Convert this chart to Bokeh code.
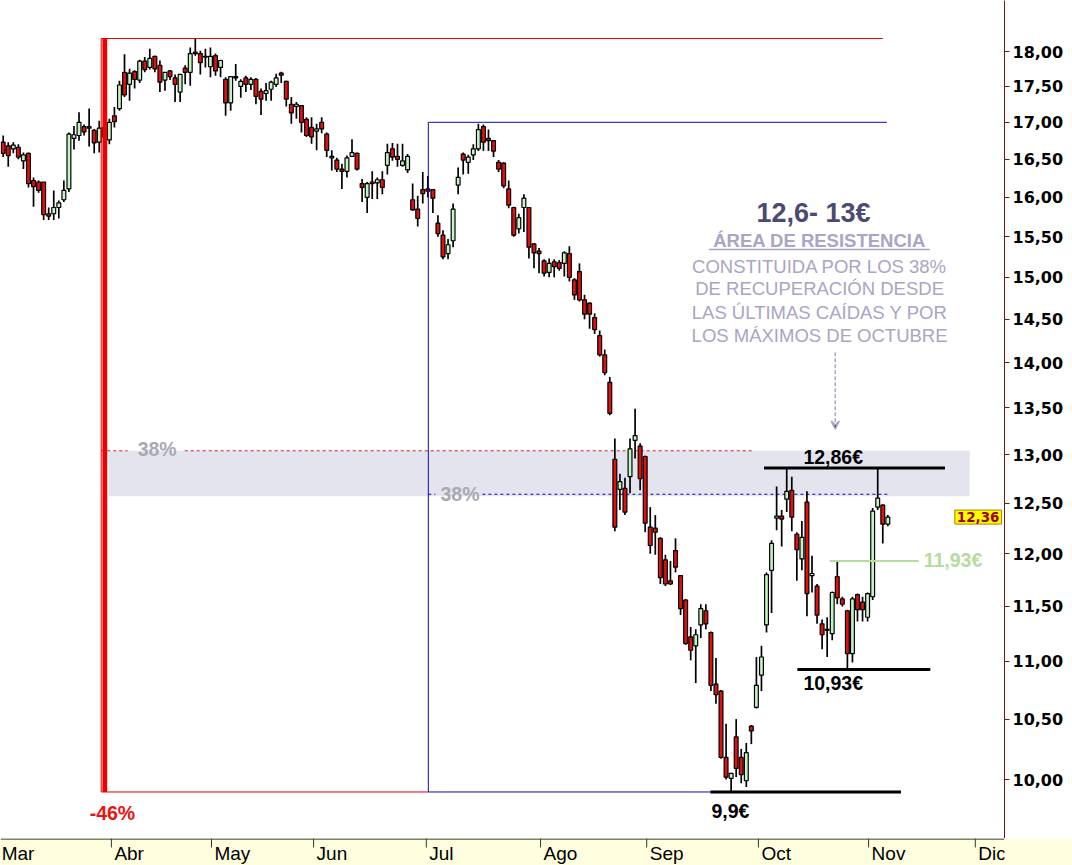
from bokeh.plotting import figure
from bokeh.layouts import column
from bokeh.models import (Range1d, FixedTicker, CustomJSTickFormatter, Label,
                          Arrow, VeeHead, ColumnDataSource)
from bokeh.core.properties import value
from bokeh.embed import file_html
from bokeh.resources import INLINE

# ---------------- data (daily candles) ----------------
opens = [16.73, 16.68, 16.64, 16.66, 16.48, 16.58, 16.22, 16.20, 16.20, 15.79,
         15.79, 15.87, 15.97, 16.11, 16.78, 16.82, 16.94, 16.94, 16.89, 16.73,
         16.93, 16.76, 17.09, 17.19, 17.70, 17.53, 17.71, 17.59, 17.86, 17.77,
         17.93, 17.80, 17.59, 17.72, 17.62, 17.42, 17.76, 17.70, 17.99, 17.97,
         17.93, 17.78, 17.94, 17.77, 17.60, 17.27, 17.64, 17.50, 17.62, 17.53,
         17.60, 17.43, 17.40, 17.46, 17.53, 17.69, 17.57, 17.25, 17.22, 17.23,
         17.04, 16.93, 16.88, 17.00, 16.84, 16.52, 16.49, 16.37, 16.34, 16.54,
         16.58, 16.18, 16.00, 16.20, 16.19, 16.23, 16.42, 16.64, 16.54, 16.42,
         16.36, 15.97, 15.85, 16.10, 16.11, 16.10, 15.67, 15.52, 15.29, 15.45,
         16.16, 16.57, 16.46, 16.56, 16.64, 16.94, 16.78, 16.75, 16.46, 16.45,
         16.11, 15.87, 15.60, 15.87, 15.87, 15.41, 15.32, 15.20, 15.06, 15.19,
         15.18, 15.17, 15.29, 14.97, 15.07, 14.73, 14.69, 14.52, 14.31, 14.09,
         13.78, 12.95, 12.64, 12.65, 12.77, 13.15, 13.09, 12.98, 12.26, 12.25,
         12.15, 11.94, 11.74, 12.03, 11.79, 11.56, 11.22, 11.14, 11.33, 11.46,
         11.26, 10.80, 10.74, 10.18, 10.01, 10.35, 10.18, 9.99, 10.44, 10.60,
         10.88, 11.33, 11.84, 12.35, 12.37, 12.54, 12.63, 12.19, 11.95, 12.51,
         11.79, 11.69, 11.34, 11.29, 11.25, 11.78, 11.57, 11.46, 11.07, 11.61,
         11.54, 11.40, 11.59, 12.46, 12.48, 12.29]
highs = [16.82, 16.73, 16.73, 16.70, 16.59, 16.59, 16.26, 16.22, 16.20, 15.87,
         16.09, 15.96, 16.22, 16.86, 16.95, 17.14, 16.97, 17.19, 16.91, 17.02,
         17.05, 17.05, 17.21, 17.58, 17.96, 17.75, 17.73, 17.88, 17.92, 18.04,
         17.94, 17.87, 17.70, 17.73, 17.67, 17.67, 17.80, 18.06, 18.19, 18.01,
         18.04, 18.06, 17.97, 17.88, 17.63, 17.64, 17.82, 17.60, 17.65, 17.63,
         17.62, 17.47, 17.55, 17.58, 17.68, 17.71, 17.58, 17.35, 17.28, 17.24,
         17.07, 17.07, 16.98, 17.07, 16.86, 16.62, 16.52, 16.44, 16.55, 16.77,
         16.59, 16.24, 16.20, 16.34, 16.26, 16.34, 16.71, 16.72, 16.71, 16.71,
         16.57, 16.18, 16.02, 16.33, 16.28, 16.11, 15.77, 15.58, 15.47, 15.92,
         16.39, 16.59, 16.56, 16.70, 16.98, 16.97, 16.90, 16.76, 16.49, 16.46,
         16.22, 15.88, 15.79, 16.04, 15.87, 15.42, 15.36, 15.22, 15.23, 15.22,
         15.21, 15.32, 15.38, 14.99, 15.17, 14.79, 14.70, 14.57, 14.37, 14.15,
         13.84, 13.17, 12.80, 12.76, 13.17, 13.49, 13.12, 12.99, 12.46, 12.38,
         12.16, 11.99, 11.93, 12.15, 11.79, 11.57, 11.31, 11.29, 11.52, 11.52,
         11.27, 11.03, 10.75, 10.46, 10.05, 10.50, 10.25, 10.30, 10.45, 11.04,
         11.14, 11.82, 12.13, 12.67, 12.43, 12.86, 12.77, 12.21, 12.32, 12.62,
         11.98, 11.71, 11.38, 11.40, 11.64, 11.93, 11.59, 11.47, 11.59, 11.62,
         11.59, 11.63, 12.45, 12.86, 12.49, 12.38]
lows = [16.53, 16.40, 16.58, 16.50, 16.37, 16.13, 15.88, 16.06, 15.71, 15.71,
        15.71, 15.73, 15.94, 16.07, 16.63, 16.75, 16.82, 16.67, 16.58, 16.59,
        16.75, 16.70, 16.93, 17.16, 17.35, 17.30, 17.47, 17.55, 17.70, 17.74,
        17.70, 17.42, 17.44, 17.59, 17.28, 17.28, 17.53, 17.51, 17.94, 17.67,
        17.77, 17.63, 17.65, 17.63, 17.09, 17.16, 17.58, 17.34, 17.42, 17.45,
        17.25, 17.10, 17.30, 17.30, 17.49, 17.55, 17.22, 16.98, 17.05, 16.86,
        16.80, 16.71, 16.62, 16.85, 16.53, 16.35, 16.33, 16.11, 16.26, 16.53,
        16.35, 15.94, 15.80, 15.98, 15.98, 16.04, 16.30, 16.48, 16.40, 16.40,
        16.32, 15.83, 15.63, 15.92, 16.00, 15.80, 15.50, 15.22, 15.22, 15.37,
        16.04, 16.30, 16.31, 16.49, 16.61, 16.61, 16.61, 16.53, 16.33, 16.12,
        15.86, 15.50, 15.54, 15.56, 15.23, 15.11, 15.05, 15.01, 15.00, 15.00,
        15.08, 15.01, 14.95, 14.73, 14.71, 14.50, 14.39, 14.33, 14.07, 13.86,
        13.42, 12.22, 12.43, 12.38, 12.60, 12.96, 12.63, 12.21, 12.00, 11.99,
        11.71, 11.69, 11.70, 11.82, 11.42, 11.15, 11.01, 10.81, 11.21, 11.29,
        10.74, 10.63, 10.17, 10.00, 9.90, 10.02, 9.97, 9.94, 10.29, 10.59,
        10.74, 11.26, 11.44, 12.23, 12.07, 12.41, 12.22, 11.74, 11.84, 11.41,
        11.63, 11.34, 11.11, 11.04, 11.19, 11.52, 11.50, 10.93, 10.99, 11.36,
        11.36, 11.36, 11.56, 12.43, 12.10, 12.27]
closes = [16.58, 16.55, 16.69, 16.53, 16.56, 16.18, 16.14, 16.09, 15.78, 15.76,
          15.87, 15.93, 16.09, 16.84, 16.83, 17.00, 16.87, 16.92, 16.72, 16.92,
          16.80, 17.00, 17.01, 17.52, 17.38, 17.69, 17.60, 17.86, 17.74, 17.90,
          17.75, 17.56, 17.70, 17.64, 17.53, 17.67, 17.70, 17.97, 17.97, 17.84,
          17.92, 17.93, 17.72, 17.87, 17.27, 17.64, 17.62, 17.57, 17.53, 17.60,
          17.36, 17.32, 17.44, 17.56, 17.62, 17.66, 17.32, 17.13, 17.25, 17.00,
          16.82, 16.80, 16.91, 16.91, 16.62, 16.54, 16.37, 16.34, 16.52, 16.59,
          16.37, 16.13, 16.18, 16.18, 16.23, 16.13, 16.59, 16.53, 16.50, 16.48,
          16.54, 15.84, 15.73, 16.05, 16.08, 15.99, 15.54, 15.25, 15.40, 15.85,
          16.26, 16.49, 16.53, 16.64, 16.90, 16.73, 16.75, 16.61, 16.37, 16.15,
          15.90, 15.52, 15.74, 15.99, 15.37, 15.30, 15.29, 15.05, 15.17, 15.13,
          15.11, 15.30, 15.00, 14.79, 14.73, 14.56, 14.56, 14.38, 14.09, 13.89,
          13.44, 12.26, 12.72, 12.41, 13.06, 13.20, 12.75, 12.30, 12.08, 12.21,
          11.77, 11.71, 11.71, 11.87, 11.48, 11.16, 11.10, 11.24, 11.48, 11.34,
          10.79, 10.71, 10.18, 10.02, 10.05, 10.09, 10.04, 10.22, 10.40, 10.79,
          11.04, 11.80, 12.10, 12.37, 12.34, 12.62, 12.36, 12.04, 12.16, 11.62,
          11.81, 11.42, 11.24, 11.28, 11.63, 11.58, 11.52, 11.07, 11.57, 11.47,
          11.47, 11.62, 12.42, 12.55, 12.29, 12.36]
days = list(range(len(opens)))

months = ["Mar", "Abr", "May", "Jun", "Jul", "Ago", "Sep", "Oct", "Nov", "Dic"]
month_start = [-0.9, 21.4, 41.2, 61.4, 83.7, 106.3, 127.3, 149.4, 171.2, 192.3]
price_ticks = [9.5, 10.0, 10.5, 11.0, 11.5, 12.0, 12.5, 13.0, 13.5, 14.0,
               14.5, 15.0, 15.5, 16.0, 16.5, 17.0, 17.5, 18.0]

# key levels
peak_high = 18.19
july_high = 17.00
sept_low = 9.90
red_38 = 13.04
blue_38 = 12.59
band_low, band_high = 12.57, 13.04
oct_high = 12.86
nov_low = 10.93
pivot = 11.93
last_price = 12.36

# ---------------- main price panel ----------------
W, H_MAIN, H_BAND = 1072, 838, 27
X0, X1 = -0.534, 198.08
p = figure(width=W, height=H_MAIN, x_range=Range1d(X0, X1),
           y_range=Range1d(9.535, 18.757), y_axis_type="log",
           x_axis_location=None, y_axis_location="right",
           output_backend="svg", toolbar_location=None,
           min_border_left=0, min_border_top=0, min_border_bottom=0,
           min_border_right=68)
p.grid.visible = False
p.outline_line_color = None
p.background_fill_color = "white"
p.border_fill_color = "white"

ax = p.yaxis[0]
ax.ticker = FixedTicker(ticks=price_ticks)
ax.formatter = CustomJSTickFormatter(code="return tick.toFixed(2).replace('.', ',');")
ax.major_label_text_font = "DejaVu Sans"
ax.major_label_text_font_style = "bold"
ax.major_label_text_font_size = "16px"
ax.major_label_text_color = "black"
ax.major_tick_out = 5
ax.major_tick_in = 0
ax.minor_tick_out = 0
ax.minor_tick_in = 0
ax.axis_line_color = "#6b1a1a"
ax.major_tick_line_color = "#6b1a1a"
ax.major_label_standoff = 3

LAV = "#aaa4c6"
FONT = "Liberation Sans"

# resistance band
p.quad(left=[20.9], right=[191.2], bottom=[band_low], top=[band_high],
       fill_color="#e4e4ee", line_color=None)

# 38% dashed retracement lines (behind candles)
p.segment(x0=[19.4, 35.9], x1=[24.6, 148.2], y0=[red_38, red_38], y1=[red_38, red_38],
          line_color="#e02020", line_width=1, line_dash="3 3")
p.segment(x0=[84.1, 94.8], x1=[85.5, 174.9], y0=[blue_38, blue_38], y1=[blue_38, blue_38],
          line_color="#0a0a9a", line_width=1, line_dash="3 3")

# candles
up = "#c4f4c4"
down = "#e01010"
src = ColumnDataSource(dict(
    x=days, o=opens, h=highs, l=lows, c=closes,
    top=[max(o, c) for o, c in zip(opens, closes)],
    bot=[min(o, c) for o, c in zip(opens, closes)],
    col=[up if c >= o else down for o, c in zip(opens, closes)],
))
p.segment(x0="x", y0="h", x1="x", y1="l", source=src, line_color="black", line_width=1.7)
p.vbar(x="x", width=0.76, top="top", bottom="bot", source=src,
       fill_color="col", line_color="black", line_width=1.2)

# red box (max to min, -46%)
p.segment(x0=[19.39, 19.39], x1=[174.0, 84.1], y0=[peak_high, sept_low], y1=[peak_high, sept_low],
          line_color="#e00000", line_width=1)
p.segment(x0=[19.39], x1=[19.39], y0=[sept_low], y1=[peak_high], line_color="#e00000", line_width=1)
p.segment(x0=[20.1], x1=[20.1], y0=[sept_low], y1=[peak_high], line_color="#f00000", line_width=4.8)

# blue box (July high to low)
p.segment(x0=[84.1, 84.1], x1=[174.8, 139.9], y0=[july_high, sept_low], y1=[july_high, sept_low],
          line_color="#0a0ab4", line_width=1)
p.segment(x0=[84.1], x1=[84.1], y0=[sept_low], y1=[july_high], line_color="#0a0ab4", line_width=1)

# support / resistance levels
p.segment(x0=[139.9, 150.5, 157.1], x1=[177.6, 186.3, 183.4],
          y0=[sept_low, oct_high, nov_low], y1=[sept_low, oct_high, nov_low],
          line_color="black", line_width=3)
p.segment(x0=[163.5], x1=[181.1], y0=[pivot], y1=[pivot], line_color="#b4dca0", line_width=2)

def lab(x, y, text, size, color, style="bold", align="left", font=FONT):
    p.add_layout(Label(x=x, y=y, text=text, text_font=font, text_font_size=size,
                       text_font_style=style, text_color=color, text_align=align,
                       text_baseline="middle"))

lab(158.3, 12.97, "12,86€", "19.5px", "black")
lab(158.3, 10.81, "10,93€", "19.5px", "black")
lab(140.1, 9.75, "9,9€", "19.5px", "black")
lab(182.1, 11.94, "11,93€", "19.5px", "#b4dca0")
lab(17.1, 9.73, "-46%", "19.5px", "#ee1111")
lab(26.6, 13.06, "38%", "19.5px", "#a9a9b2")
lab(86.5, 12.59, "38%", "19.5px", "#a9a9b2")

# annotation block
lab(160.3, 15.80, "12,6- 13€", "27px", "#4b4a72", align="center")
lab(161.5, 15.45, "ÁREA DE RESISTENCIA", "18.5px", LAV, align="center")
p.segment(x0=[139.6], x1=[183.3], y0=[15.34], y1=[15.34], line_color=LAV, line_width=1.5)
lab(161.5, 15.13, "CONSTITUIDA POR LOS 38%", "18.5px", LAV, style="normal", align="center")
lab(161.5, 14.86, "DE RECUPERACIÓN DESDE", "18.5px", LAV, style="normal", align="center")
lab(161.5, 14.58, "LAS ÚLTIMAS CAÍDAS Y POR", "18.5px", LAV, style="normal", align="center")
lab(161.5, 14.31, "LOS MÁXIMOS DE OCTUBRE", "18.5px", LAV, style="normal", align="center")
p.add_layout(Arrow(end=VeeHead(size=8, line_color=LAV, line_width=1.5),
                   x_start=164.6, y_start=14.12, x_end=164.6, y_end=13.27,
                   line_color=LAV, line_width=1.5, line_dash="4 2"))

# last price tag (kept just inside the frame, next to the price axis)
p.add_layout(Label(x=1001, x_units="screen", y=last_price, text="12,36",
                   text_font="DejaVu Sans", text_font_size="13.5px", text_font_style="bold",
                   text_color="#a00000", text_baseline="middle", text_align="right",
                   background_fill_color="#ffff00", border_line_color="#b08000",
                   border_line_width=1, padding=2))

# ---------------- month band ----------------
b = figure(width=W, height=H_BAND, x_range=Range1d(X0, X1), y_range=Range1d(-H_BAND, 0),
           x_axis_location=None, y_axis_location=None,
           output_backend="svg", toolbar_location=None, min_border=0)
b.grid.visible = False
b.outline_line_color = None
b.background_fill_color = "#ffffe0"
b.border_fill_color = "#ffffe0"
b.segment(x0=[X0], x1=[X1], y0=[-0.5], y1=[-0.5], line_color="black", line_width=1)
b.segment(x0=month_start, x1=month_start, y0=[0] * len(months), y1=[-9] * len(months),
          line_color="#333333", line_width=1)
b.text(x=month_start, y=[-4] * len(months), text=months, x_offset=3,
       text_baseline="top", text_align="left", text_font=value(FONT),
       text_font_size="19px", text_color="black")

layout = column(p, b, spacing=0)
open("out.html", "w").write(file_html(layout, INLINE))
